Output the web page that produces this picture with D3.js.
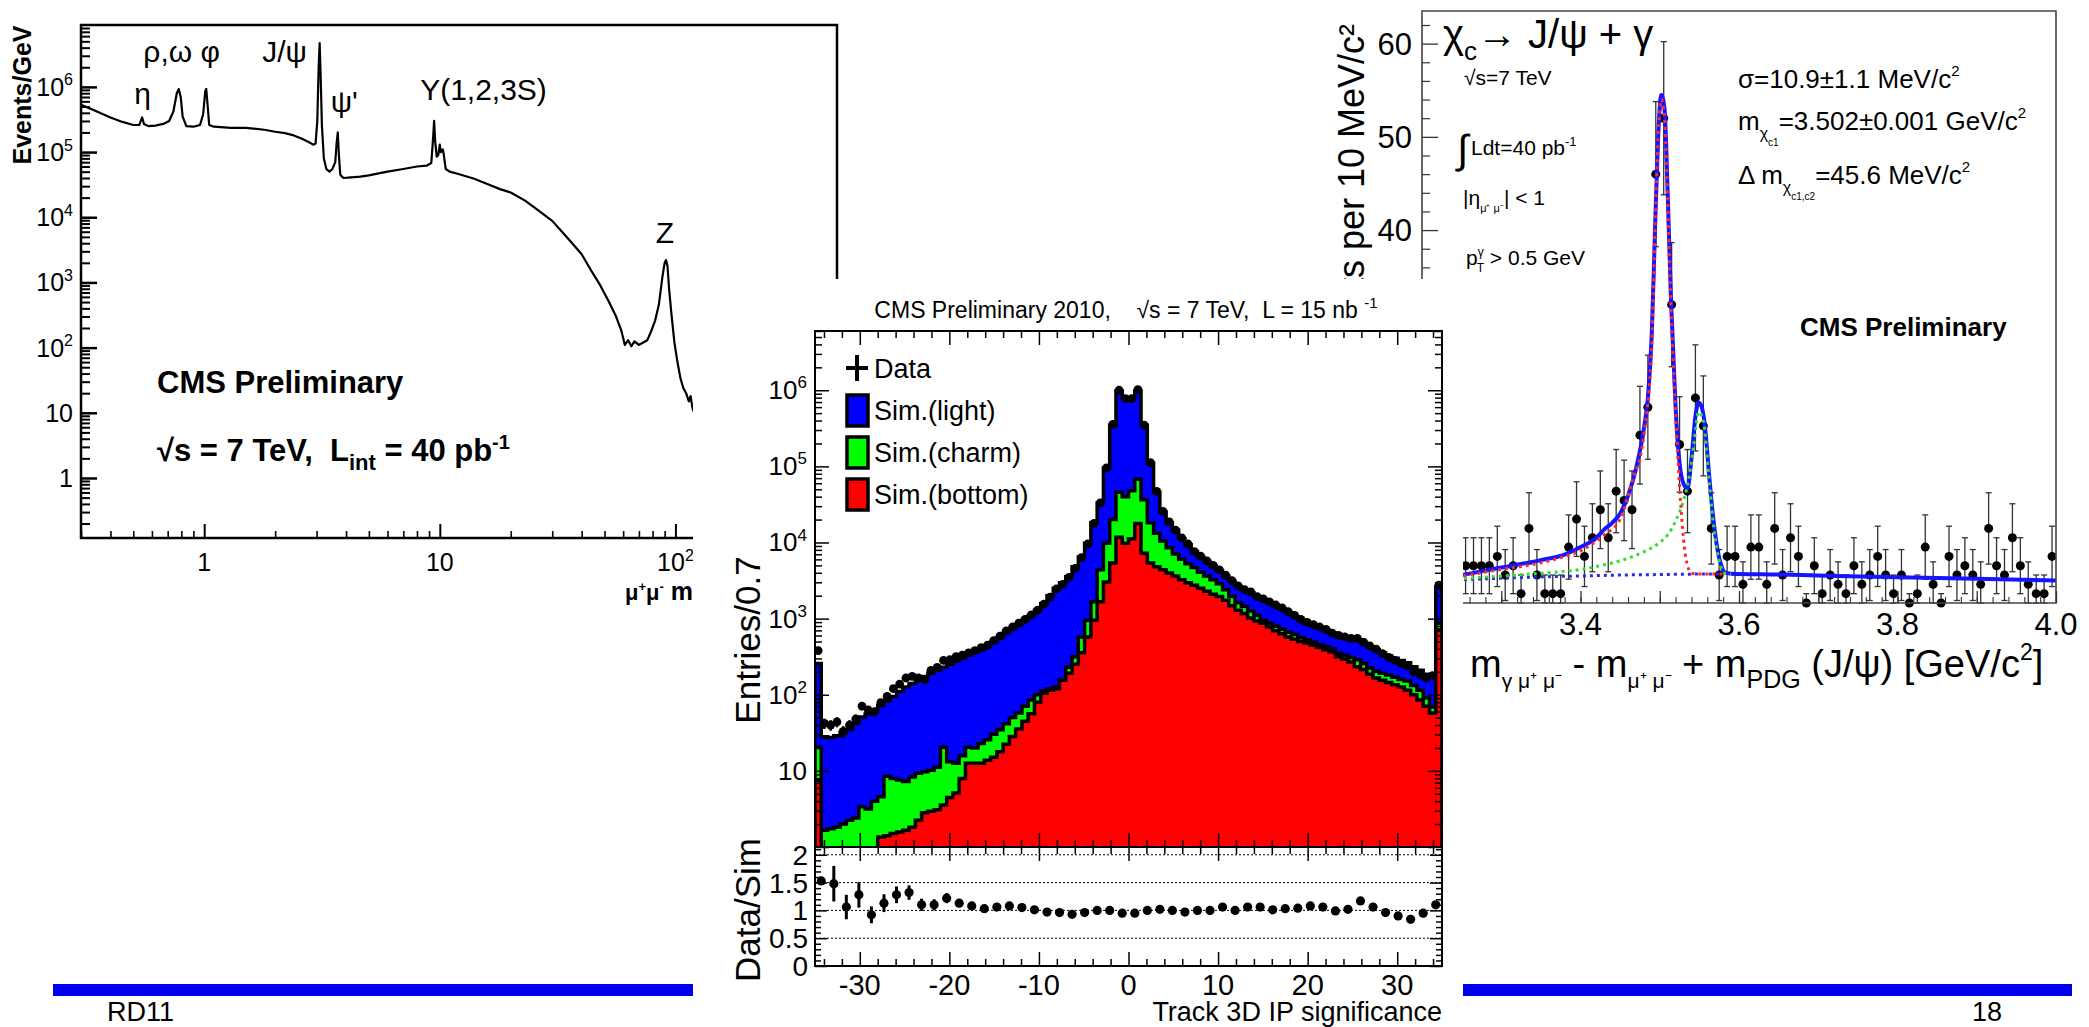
<!DOCTYPE html>
<html>
<head>
<meta charset="utf-8">
<title>CMS plots</title>
<script src="https://cdn.jsdelivr.net/npm/d3@7/dist/d3.min.js"></script>
<style>
  body { margin: 0; background: #fff; }
  svg { display: block; }
  text { font-family: "Liberation Sans", Arial, Helvetica, sans-serif; fill: #000; }
</style>
</head>
<body>
<svg id="slide" width="2089" height="1027"></svg>
<script>
// ---- left panel: dimuon invariant mass spectrum ----
var dimuonMass = [0.30, 0.33, 0.36, 0.40, 0.45, 0.50, 0.53, 0.545, 0.555, 0.58,
  0.62, 0.67, 0.71, 0.74, 0.765, 0.78, 0.795, 0.81, 0.84, 0.90,
  0.96, 0.99, 1.01, 1.02, 1.035, 1.05, 1.10, 1.30, 1.50, 1.80,
  2.00, 2.20, 2.40, 2.60, 2.80, 2.90, 2.97, 3.02, 3.06, 3.09,
  3.12, 3.16, 3.22, 3.30, 3.40, 3.50, 3.60, 3.65, 3.69, 3.73,
  3.78, 3.90, 4.20, 4.60, 5.00, 5.50, 6.00, 7.00, 8.00, 8.80,
  9.20, 9.35, 9.46, 9.55, 9.70, 9.85, 10.0, 10.1, 10.3, 10.4,
  10.6, 11.0, 12.0, 14.0, 16.0, 18.0, 20.0, 23.0, 26.0, 30.0,
  33.0, 36.0, 40.0, 44.0, 48.0, 52.0, 56.0, 59.0, 61.0, 63.0,
  65.0, 67.0, 70.0, 73.0, 76.0, 79.0, 82.0, 85.0, 88.0, 90.0,
  91.2, 92.5, 94.0, 96.0, 99.0, 102, 105, 108, 111, 114,
  116, 118, 120, 125, 130];
var dimuonEvents = [5.3e5, 4.6e5, 4.0e5, 3.4e5, 2.9e5, 2.6e5, 2.6e5, 3.4e5, 2.7e5, 2.5e5,
  2.55e5, 2.7e5, 3.0e5, 4.2e5, 8.0e5, 9.3e5, 7.0e5, 3.5e5, 2.5e5, 2.45e5,
  2.6e5, 3.8e5, 8.5e5, 9.3e5, 5.0e5, 2.6e5, 2.45e5, 2.35e5, 2.35e5, 2.2e5,
  2.05e5, 1.95e5, 1.8e5, 1.6e5, 1.4e5, 1.3e5, 1.35e5, 3.0e5, 2.0e6, 4.7e6,
  1.5e6, 2.5e5, 8.0e4, 5.5e4, 5.0e4, 5.5e4, 7.0e4, 1.4e5, 2.0e5, 9.0e4,
  4.5e4, 4.0e4, 4.1e4, 4.2e4, 4.4e4, 4.7e4, 5.0e4, 5.5e4, 6.0e4, 6.2e4,
  6.8e4, 1.5e5, 3.0e5, 1.5e5, 8.5e4, 9.0e4, 1.3e5, 1.0e5, 1.1e5, 9.0e4,
  5.5e4, 5.0e4, 4.6e4, 3.9e4, 3.2e4, 2.7e4, 2.4e4, 1.8e4, 1.3e4, 8.8e3,
  6.0e3, 4.2e3, 2.7e3, 1.5e3, 9.0e2, 5.2e2, 3.0e2, 1.8e2, 1.1e2, 1.3e2,
  1.05e2, 1.25e2, 1.1e2, 1.2e2, 1.3e2, 1.8e2, 2.6e2, 4.5e2, 1.2e3, 2.0e3,
  2.2e3, 1.8e3, 8.0e2, 3.5e2, 1.2e2, 60, 34, 24, 20, 15,
  18, 12, 10, 8, 6];
var resonanceNames = ["η", "ρ,ω", "φ", "J/ψ", "ψ'", "Υ(1,2,3S)", "Z"];
var resonanceMass = [0.548, 0.78, 1.02, 3.097, 3.686, 9.46, 91.2];
var dimuonYLabels = [1, 10, 1e2, 1e3, 1e4, 1e5, 1e6];
var dimuonXLabels = [1, 10, 100];

// ---- middle panel: track 3D IP significance, 100 bins of 0.7 in [-35, 35] ----
// stacked tops: light+charm+bottom (blue), charm+bottom (green), bottom (red)
var ipSimAll = [257, 28, 27.5, 29, 32, 35, 42, 51, 56, 63,
  72, 83, 95, 110, 126, 141, 155, 174, 191, 209,
  229, 251, 275, 302, 331, 363, 389, 437, 490, 562,
  646, 724, 832, 955, 1100, 1290, 1580, 2000, 2510, 2950,
  3550, 4790, 6460, 9770, 18200, 33100, 95500, 347000, 977000, 794000,
  794000, 977000, 347000, 110000, 45700, 25100, 18200, 14500, 11200, 9330,
  7590, 6460, 5620, 4900, 4270, 3630, 3090, 2630, 2400, 2190,
  1950, 1780, 1620, 1480, 1350, 1200, 1070, 955, 871, 813,
  759, 708, 646, 589, 562, 537, 525, 479, 427, 389,
  355, 324, 302, 282, 263, 234, 209, 186, 166, 2630];
var ipSimCharmBottom = [20.4, 1.66, 1.74, 1.82, 2.0, 2.24, 2.4, 3.39, 3.16, 3.98,
  4.57, 8.51, 7.94, 7.59, 7.24, 8.32, 9.33, 9.77, 10.2, 11.2,
  20.4, 13.2, 12.6, 15.8, 20.4, 20, 22.9, 25.7, 30.2, 34.7,
  41.7, 50.1, 57.5, 70.8, 85.1, 100, 112, 120, 126, 158,
  229, 316, 575, 955, 1660, 4370, 9770, 20000, 45700, 39800,
  47900, 67600, 36300, 18200, 13200, 10500, 8510, 7080, 6030, 5250,
  4680, 4070, 3630, 3240, 2880, 2400, 1950, 1620, 1450, 1260,
  1100, 955, 871, 794, 724, 661, 617, 562, 525, 490,
  457, 427, 398, 347, 331, 309, 288, 257, 224, 204,
  191, 182, 170, 158, 151, 132, 115, 91.2, 69.2, 871];
var ipSimBottom = [7.6, 0.5, 0.5, 0.5, 0.5, 0.5, 0.5, 0.5, 0.5, 0.5,
  1.35, 1.41, 1.51, 1.58, 1.66, 1.82, 2.24, 2.82, 2.95, 3.09,
  3.55, 4.47, 5.13, 7.94, 12.6, 12.6, 12.6, 13.8, 15.1, 17.8,
  22.4, 28.2, 35.5, 44.7, 56.2, 79.4, 105, 115, 120, 155,
  191, 251, 355, 575, 955, 1660, 3020, 5370, 11700, 9770,
  11200, 17800, 7240, 5370, 4790, 4370, 3980, 3630, 3240, 2950,
  2750, 2510, 2290, 2090, 1950, 1740, 1480, 1290, 1170, 1020,
  933, 871, 776, 692, 631, 575, 537, 501, 479, 447,
  417, 389, 363, 316, 295, 269, 234, 214, 186, 166,
  155, 145, 135, 126, 115, 100, 85.1, 70.8, 57.5, 708];
var ipData = [380, 42, 40, 44, 33, 40, 48, 71, 63, 60,
  79, 95, 120, 138, 166, 174, 166, 158, 209, 229,
  282, 288, 316, 331, 355, 380, 417, 447, 513, 589,
  692, 776, 871, 977, 1120, 1290, 1550, 1910, 2450, 2820,
  3470, 4570, 6310, 9550, 17800, 33100, 95500, 355000, 1000000, 776000,
  776000, 1020000, 347000, 112000, 46800, 25700, 18600, 14500, 11500, 9550,
  7590, 6610, 5750, 5010, 4370, 3720, 3160, 2690, 2400, 2240,
  1950, 1820, 1660, 1510, 1380, 1230, 1100, 977, 891, 832,
  776, 724, 646, 603, 575, 550, 550, 490, 437, 398,
  347, 309, 282, 257, 240, 200, 182, 166, 178, 2750];
var ratioX = [-34.3, -32.9, -31.5, -30.1, -28.7, -27.3, -25.9, -24.5, -23.1, -21.7,
  -20.3, -18.9, -17.5, -16.1, -14.7, -13.3, -11.9, -10.5, -9.1, -7.7,
  -6.3, -4.9, -3.5, -2.1, -0.7, 0.7, 2.1, 3.5, 4.9, 6.3,
  7.7, 9.1, 10.5, 11.9, 13.3, 14.7, 16.1, 17.5, 18.9, 20.3,
  21.7, 23.1, 24.5, 25.9, 27.3, 28.7, 30.1, 31.5, 32.9, 34.3];
var ratioVal = [1.53, 1.48, 1.06, 1.28, 0.92, 1.13, 1.28, 1.32, 1.10, 1.10,
  1.22, 1.13, 1.08, 1.03, 1.06, 1.08, 1.05, 1.01, 0.97, 0.96,
  0.93, 0.96, 1.00, 1.00, 0.95, 0.95, 1.00, 1.02, 1.00, 0.97,
  1.00, 1.00, 1.06, 1.00, 1.06, 1.06, 1.01, 1.03, 1.04, 1.08,
  1.06, 0.99, 1.02, 1.17, 1.06, 0.96, 0.90, 0.84, 0.95, 1.10];
var ratioErr = [0.05, 0.32, 0.22, 0.23, 0.15, 0.16, 0.15, 0.13, 0.11, 0.10,
  0.09, 0.07, 0.06, 0.05, 0.04, 0.04, 0.03, 0.03, 0.02, 0.02,
  0.02, 0.02, 0.01, 0.01, 0.01, 0.01, 0.01, 0.01, 0.02, 0.02,
  0.02, 0.02, 0.03, 0.03, 0.03, 0.03, 0.04, 0.04, 0.04, 0.04,
  0.05, 0.05, 0.05, 0.06, 0.06, 0.06, 0.06, 0.07, 0.07, 0.05];
var ipXLabels = [-30, -20, -10, 0, 10, 20, 30];
var ipYLabels = [10, 1e2, 1e3, 1e4, 1e5, 1e6];
var ratioYLabels = [0, 0.5, 1, 1.5, 2];
var legendNames = ["Data", "Sim.(light)", "Sim.(charm)", "Sim.(bottom)"];
var legendColors = [null, "#0000ff", "#00ff00", "#ff0000"];

// ---- right panel: chi_c -> J/psi + gamma, 10 MeV bins from 3.2 to 4.0 ----
var chiCounts = [3, 4, 2, 5, 3, 4, 4, 4, 4, 5,
  3, 4, 1, 8, 3, 1, 1, 1, 6, 9,
  5, 7, 10, 7, 12, 11, 10, 18, 21, 46,
  52, 32, 17, 12, 22, 19, 8, 3, 5, 5,
  2, 6, 6, 2, 8, 3, 7, 5, 0, 4,
  1, 3, 2, 1, 4, 2, 3, 5, 3, 1,
  3, 0, 1, 6, 2, 0, 5, 3, 4, 3,
  2, 8, 4, 3, 7, 4, 2, 1, 1, 5];
var fitTotal = [[3.20, 2.4], [3.25, 3.0], [3.30, 3.8], [3.35, 4.6], [3.38, 5.2], [3.40, 6.0],
  [3.42, 7.0], [3.43, 7.9], [3.44, 8.6], [3.45, 9.6], [3.46, 11.5], [3.47, 14.4],
  [3.48, 18.7], [3.485, 22], [3.49, 29], [3.494, 40], [3.498, 50], [3.502, 54.5],
  [3.506, 53], [3.510, 44], [3.514, 33], [3.517, 27], [3.520, 21], [3.525, 15],
  [3.530, 12.8], [3.535, 12.3], [3.540, 15.5], [3.545, 20], [3.549, 21.5], [3.553, 21],
  [3.557, 19], [3.562, 14], [3.567, 9.5], [3.572, 6.2], [3.577, 4.2], [3.582, 3.3],
  [3.59, 3.15], [3.65, 3.05], [3.70, 2.95], [3.80, 2.75], [3.90, 2.6], [4.00, 2.4]];
var fitChic1 = [[3.20, 2.3], [3.25, 2.9], [3.30, 3.6], [3.35, 4.3], [3.38, 5.0], [3.40, 5.6],
  [3.43, 7.3], [3.45, 9.0], [3.465, 13], [3.48, 18], [3.49, 28], [3.494, 40],
  [3.498, 50], [3.502, 54], [3.506, 52], [3.510, 43], [3.514, 32], [3.518, 24],
  [3.522, 17], [3.527, 10], [3.531, 6], [3.535, 4], [3.540, 3.2], [3.55, 3.1], [3.58, 3.1]];
var fitChic2 = [[3.20, 2.3], [3.25, 2.6], [3.30, 2.9], [3.35, 3.2], [3.40, 3.6], [3.43, 4.1],
  [3.46, 4.8], [3.48, 5.5], [3.50, 6.5], [3.51, 7.3], [3.52, 8.8], [3.53, 11],
  [3.537, 13.5], [3.543, 17], [3.549, 20.5], [3.555, 19.5], [3.562, 13.5], [3.567, 9],
  [3.572, 5.8], [3.577, 3.9], [3.582, 3.2], [3.59, 3.1]];
var fitBkg = [[3.20, 2.3], [3.25, 2.5], [3.30, 2.65], [3.35, 2.8], [3.40, 2.9],
  [3.45, 3.0], [3.50, 3.05], [3.55, 3.1], [3.58, 3.1]];
var chiXLabels = [3.4, 3.6, 3.8, 4.0];
var chiYLabels = [40, 50, 60];

var svg = d3.select("#slide");
var defs = svg.append("defs");

function logTicks(lo, hi, majorOnly) {
  var out = [];
  for (var e = Math.floor(Math.log10(lo)); e <= Math.ceil(Math.log10(hi)); e++) {
    for (var m = 1; m < 10; m++) {
      var v = m * Math.pow(10, e);
      if (v >= lo && v <= hi && (m === 1) === majorOnly) out.push(v);
    }
  }
  return out;
}

// tick marks only, through d3 axes
function ticks(g, axisFn, scale, values, size, tx, ty, width, color) {
  g.append("g")
    .attr("transform", "translate(" + tx + "," + ty + ")")
    .call(axisFn(scale).tickValues(values).tickSize(size).tickFormat(""))
    .call(function (a) {
      a.select(".domain").remove();
      a.selectAll("line").attr("stroke", color || "#000").attr("stroke-width", width);
    });
}

// text built from pieces: [string, shift(em, + is down), size, dx]
function rich(g, x, y, size, parts, anchor, weight) {
  var t = g.append("text").attr("x", x).attr("y", y).attr("font-size", size)
    .attr("text-anchor", anchor || "start").attr("font-weight", weight || "normal")
    .style("white-space", "pre");
  var shift = 0;
  parts.forEach(function (p) {
    var target = (p[1] || 0) * size;
    var ts = t.append("tspan").attr("dy", target - shift).text(p[0]);
    if (p[2]) ts.attr("font-size", p[2]);
    if (p[3]) ts.attr("dx", p[3]);
    shift = target;
  });
  return t;
}

function powerText(v, supSize) {
  var e = Math.round(Math.log10(v));
  if (e === 0) return [["1"]];
  if (e === 1) return [["10"]];
  return [["10"], [String(e), -0.42, supSize]];
}

// ================= left panel =================
var L = { x0: 81, x1: 837, y0: 25, y1: 538 };
var xL = d3.scaleLog().domain([0.3, 485]).range([L.x0, L.x1]);
var yL = d3.scaleLog().domain([0.12, 8.9e6]).range([L.y1, L.y0]);
var gL = svg.append("g");
defs.append("clipPath").attr("id", "clipL").append("rect")
  .attr("x", L.x0).attr("y", L.y0).attr("width", L.x1 - L.x0).attr("height", L.y1 - L.y0);

gL.append("path")
  .datum(d3.zip(dimuonMass, dimuonEvents))
  .attr("d", d3.line().x(function (d) { return xL(d[0]); }).y(function (d) { return yL(d[1]); }))
  .attr("fill", "none").attr("stroke", "#000").attr("stroke-width", 2.2)
  .attr("stroke-linejoin", "round").attr("clip-path", "url(#clipL)");

gL.append("rect").attr("x", L.x0).attr("y", L.y0).attr("width", L.x1 - L.x0).attr("height", L.y1 - L.y0)
  .attr("fill", "none").attr("stroke", "#000").attr("stroke-width", 2.5);

ticks(gL, d3.axisRight, yL, logTicks(0.12, 8.9e6, true), 16, L.x0, 0, 2.5);
ticks(gL, d3.axisRight, yL, logTicks(0.12, 8.9e6, false), 9, L.x0, 0, 2);
ticks(gL, d3.axisTop, xL, logTicks(0.3, 485, true), 14, 0, L.y1, 2);
ticks(gL, d3.axisTop, xL, logTicks(0.3, 485, false), 7, 0, L.y1, 1.6);

dimuonYLabels.forEach(function (v) {
  rich(gL, L.x0 - 8, yL(v) + 9, 25, powerText(v, 16), "end");
});
dimuonXLabels.forEach(function (v) {
  rich(gL, xL(v), 571, 25, powerText(v, 16), "middle");
});
rich(gL, 693, 600, 22, [["μ"], ["+", -0.4, 13], ["μ", 0.0, 22], ["-", -0.4, 13], [" m", 0, 25]], "end", "bold");

gL.append("text").attr("transform", "translate(31,95) rotate(-90)")
  .attr("text-anchor", "middle").attr("font-size", 25).attr("font-weight", "bold").text("Events/GeV");

// resonance labels: anchor, dx, baseline
var resonanceStyle = [["middle", 0, 104], ["middle", -11, 62], ["middle", 4, 62], ["end", -13, 62],
  ["start", -7, 112], ["start", -14, 100], ["middle", -1, 243]];
resonanceNames.forEach(function (n, i) {
  var s = resonanceStyle[i];
  gL.append("text").attr("x", xL(resonanceMass[i]) + s[1]).attr("y", s[2])
    .attr("text-anchor", s[0]).attr("font-size", 30).text(n);
});

gL.append("text").attr("x", 157).attr("y", 393).attr("font-size", 31).attr("font-weight", "bold")
  .text("CMS Preliminary");
rich(gL, 157, 461, 31, [["√s = 7 TeV,  L"], ["int", 0.3, 22], [" = 40 pb", 0, 31], ["-1", -0.4, 20]], "start", "bold");

// ================= right panel =================
var R = { x0: 1422, x1: 2056, y0: 11, y1: 603 };
var xR = d3.scaleLinear().domain([3.2, 4.0]).range([R.x0, R.x1]);
var yR = d3.scaleLinear().domain([0, 63.5]).range([R.y1, R.y0]);
var gR = svg.append("g");
defs.append("clipPath").attr("id", "clipR").append("rect")
  .attr("x", R.x0).attr("y", R.y0 - 40).attr("width", R.x1 - R.x0).attr("height", R.y1 - R.y0 + 48);

var chiMass = d3.range(chiCounts.length).map(function (k) { return 3.205 + 0.01 * k; });
var chiPoints = chiCounts.map(function (n, k) {
  var err = Math.sqrt(n) + 1; // displayed Poisson-like bars
  return { m: chiMass[k], n: n, lo: Math.max(0, n - err), hi: n + err };
});
var gData = gR.append("g").attr("clip-path", "url(#clipR)");
gData.selectAll("line.err").data(chiPoints).enter().append("line")
  .attr("x1", function (d) { return xR(d.m); }).attr("x2", function (d) { return xR(d.m); })
  .attr("y1", function (d) { return yR(d.lo); }).attr("y2", function (d) { return yR(d.hi); })
  .attr("stroke", "#333").attr("stroke-width", 1.3);
["lo", "hi"].forEach(function (k) {
  gData.selectAll("line.cap" + k).data(chiPoints).enter().append("line")
    .attr("x1", function (d) { return xR(d.m) - 3; }).attr("x2", function (d) { return xR(d.m) + 3; })
    .attr("y1", function (d) { return yR(d[k]); }).attr("y2", function (d) { return yR(d[k]); })
    .attr("stroke", "#333").attr("stroke-width", 1.3);
});
gData.selectAll("circle").data(chiPoints).enter().append("circle")
  .attr("cx", function (d) { return xR(d.m); }).attr("cy", function (d) { return yR(d.n); })
  .attr("r", 4.5).attr("fill", "#000");

var fitLine = d3.line().x(function (d) { return xR(d[0]); }).y(function (d) { return yR(d[1]); })
  .curve(d3.curveMonotoneX);
gData.append("path").datum(fitTotal).attr("d", fitLine).attr("fill", "none")
  .attr("stroke", "#1515ff").attr("stroke-width", 4);
[[fitBkg, "#2a2ae8"], [fitChic2, "#33dd33"], [fitChic1, "#ff2a2a"]].forEach(function (c) {
  gData.append("path").datum(c[0]).attr("d", fitLine).attr("fill", "none")
    .attr("stroke", c[1]).attr("stroke-width", 3).attr("stroke-dasharray", "3,4");
});

gR.append("path")
  .attr("d", "M" + R.x0 + "," + R.y1 + "V" + R.y0 + "H" + R.x1 + "V" + R.y1 + "H" + R.x0)
  .attr("fill", "none").attr("stroke", "#444").attr("stroke-width", 1.6);
ticks(gR, d3.axisRight, yR, d3.range(0, 64, 10), 16, R.x0, 0, 1.3, "#333");
ticks(gR, d3.axisRight, yR, d3.range(2, 64, 2).filter(function (v) { return v % 10; }), 8, R.x0, 0, 1.2, "#333");
ticks(gR, d3.axisTop, xR, d3.range(3.2, 4.001, 0.1), 12, 0, R.y1, 1.3, "#333");
ticks(gR, d3.axisTop, xR, d3.range(3.22, 4.0, 0.02), 6, 0, R.y1, 1.1, "#333");

chiYLabels.forEach(function (v) {
  gR.append("text").attr("x", R.x0 - 10).attr("y", yR(v) + 11).attr("text-anchor", "end")
    .attr("font-size", 31).text(v);
});
chiXLabels.forEach(function (v) {
  gR.append("text").attr("x", xR(v)).attr("y", 635).attr("text-anchor", "middle")
    .attr("font-size", 31).text(v.toFixed(1));
});
gR.append("text").attr("transform", "translate(1364,24) rotate(-90)").attr("text-anchor", "end")
  .attr("font-size", 36).text("Events per 10 MeV/c²");
rich(gR, 1470, 677, 38, [["m"], ["γ μ⁺ μ⁻", 0.3, 21], [" - m", 0, 38], ["μ⁺ μ⁻", 0.3, 21],
  [" + m", 0, 38], ["PDG", 0.3, 25], [" (J/ψ) [GeV/c", 0, 38], ["2", -0.45, 23], ["]", 0, 38]]);

rich(gR, 1443, 48, 40, [["χ"], ["c", 0.3, 26], ["→ J/ψ + γ", 0, 40]]);
rich(gR, 1464, 85, 21, [["√s=7 TeV"]]);
gR.append("text").attr("x", 1457).attr("y", 163).attr("font-size", 40).text("∫");
rich(gR, 1471, 155, 21, [["Ldt=40 pb"], ["-1", -0.45, 13]]);
rich(gR, 1463, 205, 21, [["|η"], ["μ⁺ μ⁻", 0.35, 11], ["| < 1", 0, 21]]);
rich(gR, 1466, 265, 21, [["p"], ["γ", -0.45, 12], ["T", 0.35, 12, -7], [" > 0.5 GeV", 0, 21]]);
rich(gR, 1738, 88, 26, [["σ=10.9±1.1 MeV/c"], ["2", -0.45, 15]]);
rich(gR, 1738, 130, 26, [["m"], ["χ", 0.35, 16], ["c1", 0.6, 10], ["=3.502±0.001 GeV/c", 0, 26], ["2", -0.45, 15]]);
rich(gR, 1738, 184, 26, [["Δ m"], ["χ", 0.35, 16], ["c1,c2", 0.6, 10], ["=45.6 MeV/c", 0, 26], ["2", -0.45, 15]]);
gR.append("text").attr("x", 1800).attr("y", 336).attr("font-size", 26).attr("font-weight", "bold")
  .text("CMS Preliminary");

// ================= middle panel (drawn over the others) =================
var M = { x0: 815, x1: 1442, y0: 331, y1: 847, r1: 966 };
var gM = svg.append("g");
gM.append("rect").attr("x", 693).attr("y", 279).attr("width", 1463 - 693).attr("height", 1027 - 279)
  .attr("fill", "#fff");
var xM = d3.scaleLinear().domain([-35, 35]).range([M.x0, M.x1]);
var yM = d3.scaleLog().domain([1, 6.0e6]).range([M.y1, M.y0]);
var yQ = d3.scaleLinear().domain([0, 2.14]).range([M.r1, M.y1]);
defs.append("clipPath").attr("id", "clipM").append("rect")
  .attr("x", M.x0).attr("y", M.y0).attr("width", M.x1 - M.x0).attr("height", M.y1 - M.y0);

var edges = d3.range(101).map(function (i) { return -35 + 0.7 * i; });
function stepData(vals) {
  var pts = vals.map(function (v, i) { return { x: edges[i], v: v }; });
  pts.push({ x: 35, v: vals[vals.length - 1] });
  return pts;
}
var histArea = d3.area()
  .x(function (d) { return xM(d.x); })
  .y0(yM(0.4))
  .y1(function (d) { return yM(Math.max(d.v, 0.4)); })
  .curve(d3.curveStepAfter);
var gH = gM.append("g").attr("clip-path", "url(#clipM)");
[[ipSimAll, "#0000ff"], [ipSimCharmBottom, "#00ff00"], [ipSimBottom, "#ff0000"]].forEach(function (h) {
  gH.append("path").datum(stepData(h[0])).attr("d", histArea)
    .attr("fill", h[1]).attr("stroke", "#000").attr("stroke-width", 3.5).attr("stroke-linejoin", "miter");
});
var dataPts = ipData.map(function (v, i) { return { x: edges[i] + 0.35, v: v }; });
gH.selectAll("line.derr").data(dataPts).enter().append("line")
  .attr("x1", function (d) { return xM(d.x); }).attr("x2", function (d) { return xM(d.x); })
  .attr("y1", function (d) { return yM(Math.max(0.4, d.v - Math.sqrt(d.v))); })
  .attr("y2", function (d) { return yM(d.v + Math.sqrt(d.v)); })
  .attr("stroke", "#000").attr("stroke-width", 2.5);
gH.selectAll("circle").data(dataPts).enter().append("circle")
  .attr("cx", function (d) { return xM(d.x); }).attr("cy", function (d) { return yM(d.v); })
  .attr("r", 4.4).attr("fill", "#000");

// ratio panel
[0.5, 1, 1.5, 2].forEach(function (v) {
  gM.append("line").attr("x1", M.x0).attr("x2", M.x1).attr("y1", yQ(v)).attr("y2", yQ(v))
    .attr("stroke", "#000").attr("stroke-width", 1).attr("stroke-dasharray", "2,2");
});
var ratioPts = ratioX.map(function (x, i) { return { x: x, v: ratioVal[i], e: ratioErr[i] }; });
gM.selectAll("line.rerr").data(ratioPts).enter().append("line")
  .attr("x1", function (d) { return xM(d.x); }).attr("x2", function (d) { return xM(d.x); })
  .attr("y1", function (d) { return yQ(d.v - d.e); }).attr("y2", function (d) { return yQ(d.v + d.e); })
  .attr("stroke", "#000").attr("stroke-width", 3);
gM.selectAll("circle.rp").data(ratioPts).enter().append("circle").attr("class", "rp")
  .attr("cx", function (d) { return xM(d.x); }).attr("cy", function (d) { return yQ(d.v); })
  .attr("r", 4.6).attr("fill", "#000");

// frames and ticks
gM.append("rect").attr("x", M.x0).attr("y", M.y0).attr("width", M.x1 - M.x0).attr("height", M.r1 - M.y0)
  .attr("fill", "none").attr("stroke", "#000").attr("stroke-width", 2);
gM.append("line").attr("x1", M.x0).attr("x2", M.x1).attr("y1", M.y1).attr("y2", M.y1)
  .attr("stroke", "#000").attr("stroke-width", 2);
var xMajor = d3.range(-30, 31, 10), xMinor = d3.range(-34, 35, 2).filter(function (v) { return v % 10; });
[[d3.axisBottom, M.y0], [d3.axisTop, M.y1], [d3.axisBottom, M.y1], [d3.axisTop, M.r1]].forEach(function (a) {
  ticks(gM, a[0], xM, xMajor, 14, 0, a[1], 1.5);
  ticks(gM, a[0], xM, xMinor, 7, 0, a[1], 1.5);
});
ticks(gM, d3.axisRight, yM, logTicks(1, 6e6, true), 14, M.x0, 0, 1.5);
ticks(gM, d3.axisRight, yM, logTicks(1, 6e6, false), 7, M.x0, 0, 1.5);
ticks(gM, d3.axisLeft, yM, logTicks(1, 6e6, true), 14, M.x1, 0, 1.5);
ticks(gM, d3.axisLeft, yM, logTicks(1, 6e6, false), 7, M.x1, 0, 1.5);
var qMinor = d3.range(0.1, 2.11, 0.1).filter(function (v) { return Math.abs(v * 2 - Math.round(v * 2)) > 0.01; });
ticks(gM, d3.axisRight, yQ, ratioYLabels, 12, M.x0, 0, 1.5);
ticks(gM, d3.axisRight, yQ, qMinor, 6, M.x0, 0, 1.5);
ticks(gM, d3.axisLeft, yQ, ratioYLabels, 12, M.x1, 0, 1.5);
ticks(gM, d3.axisLeft, yQ, qMinor, 6, M.x1, 0, 1.5);

ipYLabels.forEach(function (v) {
  rich(gM, 807, yM(v) + 9, 26, powerText(v, 17), "end");
});
ratioYLabels.forEach(function (v) {
  gM.append("text").attr("x", 808).attr("y", yQ(v) + 10).attr("text-anchor", "end")
    .attr("font-size", 28).text(v);
});
ipXLabels.forEach(function (v) {
  gM.append("text").attr("x", xM(v)).attr("y", 995).attr("text-anchor", "middle")
    .attr("font-size", 29).text(v);
});
gM.append("text").attr("x", M.x1).attr("y", 1021).attr("text-anchor", "end").attr("font-size", 27)
  .text("Track 3D IP significance");
gM.append("text").attr("transform", "translate(760,640) rotate(-90)").attr("text-anchor", "middle")
  .attr("font-size", 35).text("Entries/0.7");
gM.append("text").attr("transform", "translate(760,910) rotate(-90)").attr("text-anchor", "middle")
  .attr("font-size", 35).text("Data/Sim");
rich(gM, 1126, 318, 23, [["CMS Preliminary 2010,    √s = 7 TeV,  L = 15 nb "], ["-1", -0.45, 15]], "middle");

// legend
var gLeg = gM.append("g");
legendNames.forEach(function (n, i) {
  var cy = 368 + i * 42;
  if (legendColors[i]) {
    gLeg.append("rect").attr("x", 847).attr("y", cy - 15).attr("width", 21).attr("height", 31)
      .attr("fill", legendColors[i]).attr("stroke", "#000").attr("stroke-width", 3.5);
  } else {
    gLeg.append("line").attr("x1", 846).attr("x2", 868).attr("y1", cy).attr("y2", cy)
      .attr("stroke", "#000").attr("stroke-width", 4);
    gLeg.append("line").attr("x1", 857).attr("x2", 857).attr("y1", cy - 13).attr("y2", cy + 13)
      .attr("stroke", "#000").attr("stroke-width", 4);
  }
  gLeg.append("text").attr("x", 874).attr("y", cy + 10).attr("font-size", 27).text(n);
});

// ================= slide footer =================
svg.append("rect").attr("x", 53).attr("y", 984).attr("width", 693 - 53).attr("height", 12).attr("fill", "#0000f0");
svg.append("rect").attr("x", 1463).attr("y", 984).attr("width", 2072 - 1463).attr("height", 12).attr("fill", "#0000f0");
svg.append("text").attr("x", 107).attr("y", 1021).attr("font-size", 27).text("RD11");
svg.append("text").attr("x", 1972).attr("y", 1021).attr("font-size", 27).text("18");
</script>
</body>
</html>
